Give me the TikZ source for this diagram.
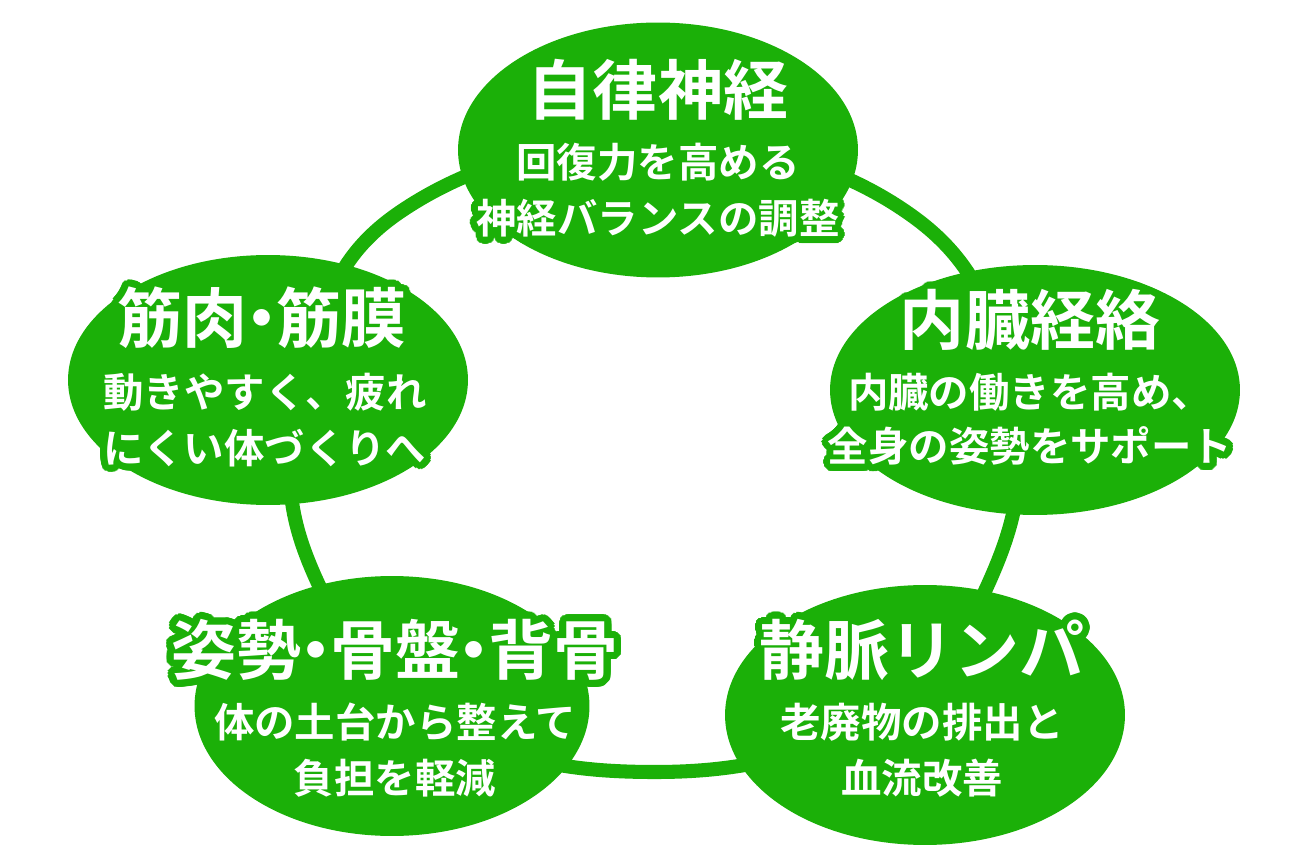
\documentclass[tikz,border=0pt]{standalone}
\usepackage{fontspec}
\setmainfont{Noto Sans CJK JP Bold}
\usetikzlibrary{shapes.geometric}
\definecolor{g}{RGB}{27,176,8}
\newcommand\hl[5]{%
 \foreach \a in {0,11.25,...,348.75}{\node[font=#4,text=g,inner sep=0] at ([shift={(\a:7)}]#1,#2) {#5};}
 \node[font=#4,text=white,inner sep=0] (#3) at (#1,#2) {#5};}
\newcommand\dt{\kern-0.28em・\kern-0.28em}
\tikzset{blob/.style={ellipse,fill=g,inner sep=0}}
\begin{document}
\begin{tikzpicture}[x=0.02cm,y=-0.02cm]
\useasboundingbox (0,0) rectangle (1315,847);
\draw[g,line width=8pt] plot[smooth cycle,tension=0.7] coordinates {(400,212) (658,140) (915,218) (1012,400) (990,580) (870,720) (655,772) (440,720) (308,560) (305,380)};
\node[blob,minimum width=8cm,minimum height=5.1cm] (e1) at (658,150) {};
\node[blob,minimum width=8.2cm,minimum height=5cm] (e2) at (1035,390) {};
\node[blob,minimum width=8cm,minimum height=5.2cm] (e3) at (925,715) {};
\node[blob,minimum width=7.9cm,minimum height=5.2cm] (e4) at (392,706) {};
\node[blob,minimum width=8cm,minimum height=5cm] (e5) at (268,380) {};
\def\T{\fontsize{37pt}{38pt}\selectfont}
\def\S{\fontsize{23pt}{24pt}\selectfont}
\hl{658}{90}{t1}{\T}{自律神経}
\hl{658}{162}{a1}{\S}{回復力を高める}
\hl{658}{218}{b1}{\S}{神経バランスの調整}
\hl{1030}{320}{t2}{\T}{内臓経絡}
\hl{1030}{392}{a2}{\S}{内臓の働きを高め、}
\hl{1030}{446}{b2}{\S}{全身の姿勢をサポート}
\hl{922}{650}{t3}{\T}{静脈リンパ}
\hl{922}{722}{a3}{\S}{老廃物の排出と}
\hl{922}{778}{b3}{\S}{血流改善}
\hl{395}{650}{t4}{\T}{姿勢\dt 骨盤\dt 背骨}
\hl{395}{722}{a4}{\S}{体の土台から整えて}
\hl{395}{778}{b4}{\S}{負担を軽減}
\hl{262}{318}{t5}{\T}{筋肉\dt 筋膜}
\hl{265}{392}{a5}{\S}{動きやすく、疲れ}
\hl{265}{448}{b5}{\S}{にくい体づくりへ}
\end{tikzpicture}
\end{document}
